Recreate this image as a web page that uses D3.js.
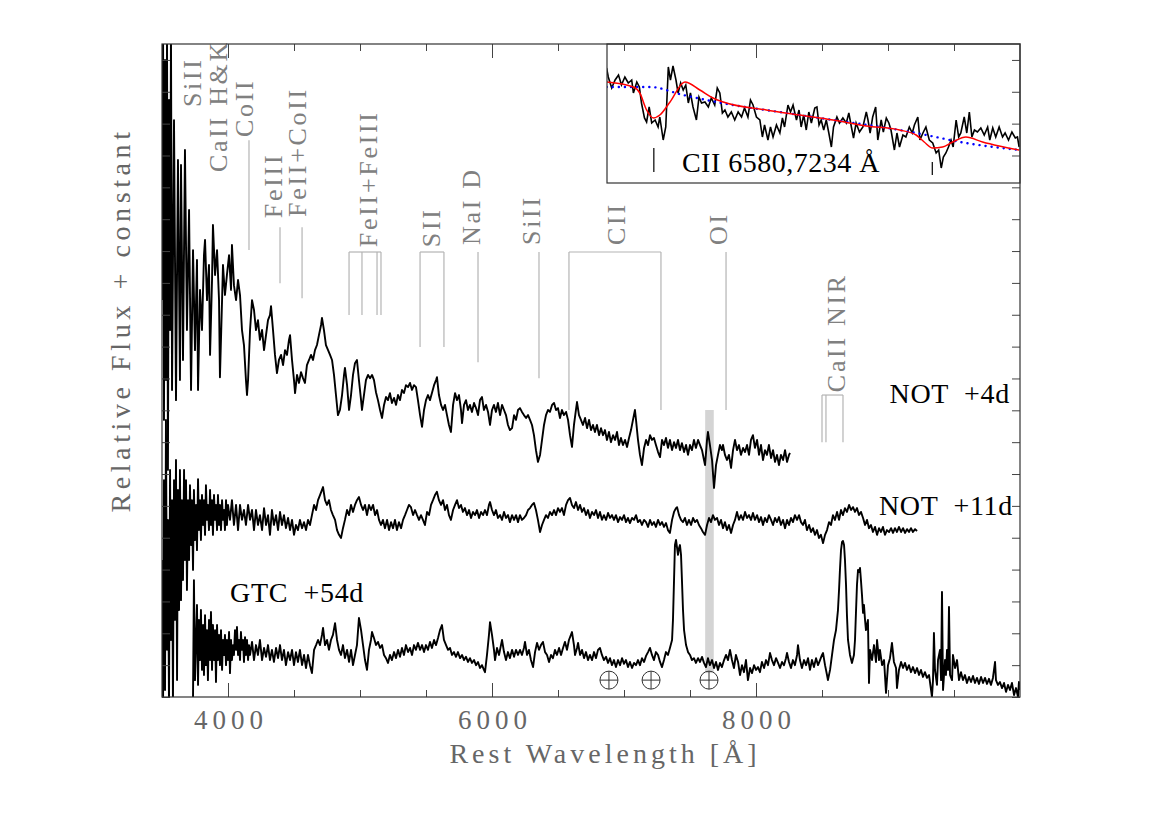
<!DOCTYPE html>
<html>
<head>
<meta charset="utf-8">
<script src="https://cdn.jsdelivr.net/npm/d3@7"></script>
<style>
body { margin: 0; background: #fff; }
text { font-family: "Liberation Serif", "DejaVu Serif", serif; }
</style>
</head>
<body>
<script>
// ---------------- data (wavelength in Angstrom, relative flux + constant) ----------------
var xMajorTicks = [4000, 6000, 8000];
var xMinorTicks = [4500, 5000, 5500, 6500, 7000, 7500, 8500, 9000, 9500];
var yTicks = [0, 1, 2, 3, 4, 5, 6, 7, 8, 9, 10, 11, 12, 13, 14, 15, 16, 17, 18, 19, 20];

var not4dSpectrum = [[3500,12.46],[3508,20.94],[3515,8.70],[3523,20.00],[3530,9.95],[3538,20.94],[3545,7.13],[3553,18.74],[3561,11.52],[3568,20.94],[3576,9.64],[3591,18.11],[3606,9.32],[3621,16.86],[3636,9.95],[3644,16.70],[3659,10.58],[3674,17.17],[3689,11.52],[3705,15.29],[3720,9.64],[3735,14.03],[3750,10.89],[3765,13.72],[3773,9.64],[3788,12.78],[3803,11.52],[3818,13.87],[3826,14.35],[3841,12.46],[3856,13.56],[3864,10.74],[3879,13.09],[3886,14.82],[3902,13.25],[3917,14.03],[3932,12.46],[3939,10.04],[3955,12.46],[3962,13.56],[3977,12.62],[3992,13.25],[4008,13.87],[4023,12.78],[4030,14.19],[4045,12.93],[4061,12.46],[4076,13.09],[4091,12.62],[4106,11.52],[4121,11.05],[4136,9.95],[4144,9.48],[4152,9.95],[4167,11.52],[4182,12.46],[4197,12.15],[4212,11.52],[4227,11.83],[4242,11.21],[4258,11.52],[4273,10.89],[4288,11.36],[4303,11.83],[4318,11.99],[4326,12.27],[4341,11.52],[4356,10.74],[4371,10.17],[4386,10.58],[4402,10.74],[4417,10.42],[4432,10.89],[4447,10.74],[4462,11.21],[4470,11.36],[4485,10.58],[4500,9.95],[4508,9.54],[4523,10.11],[4538,9.86],[4553,10.20],[4568,10.01],[4583,9.86],[4598,10.42],[4614,10.58],[4629,10.74],[4644,10.58],[4659,10.89],[4674,11.05],[4689,11.36],[4705,11.68],[4712,11.90],[4727,11.52],[4742,11.05],[4758,10.89],[4773,10.74],[4788,10.58],[4803,10.11],[4818,9.48],[4833,8.85],[4848,9.01],[4864,9.48],[4879,10.11],[4886,10.33],[4902,9.79],[4917,9.01],[4932,9.48],[4947,10.11],[4962,10.48],[4977,10.58],[4992,9.95],[5008,9.32],[5015,9.01],[5030,9.48],[5045,9.95],[5061,10.11],[5076,10.01],[5091,10.11],[5106,9.95],[5121,9.57],[5136,9.32],[5152,9.01],[5167,8.76],[5182,9.17],[5197,9.42],[5212,9.32],[5227,9.54],[5242,9.23],[5258,9.39],[5273,9.17],[5288,9.48],[5303,9.32],[5318,9.64],[5333,9.54],[5348,9.79],[5364,9.73],[5379,9.86],[5394,9.64],[5409,9.79],[5424,9.73],[5439,9.32],[5455,8.85],[5470,8.48],[5485,9.01],[5500,9.32],[5515,9.48],[5530,9.32],[5545,9.54],[5561,9.79],[5576,9.95],[5583,10.04],[5598,9.48],[5614,9.17],[5629,9.01],[5644,9.17],[5659,8.85],[5674,8.54],[5689,8.32],[5705,9.17],[5720,9.54],[5735,9.32],[5750,9.48],[5765,9.01],[5773,8.60],[5788,9.17],[5803,9.32],[5818,9.01],[5833,9.17],[5848,8.95],[5864,9.23],[5879,9.07],[5894,8.85],[5909,9.32],[5924,9.42],[5939,9.01],[5955,9.17],[5970,8.95],[5985,8.54],[6000,9.01],[6015,9.17],[6030,8.95],[6045,9.23],[6061,8.85],[6076,9.17],[6091,9.01],[6106,8.85],[6121,8.54],[6136,8.38],[6152,8.44],[6167,8.85],[6182,8.70],[6197,9.01],[6212,9.07],[6227,8.95],[6242,8.85],[6258,8.76],[6273,8.85],[6288,8.70],[6303,8.54],[6318,8.22],[6333,7.75],[6348,7.38],[6364,7.60],[6379,8.07],[6394,8.54],[6409,8.85],[6424,9.01],[6439,8.95],[6455,9.17],[6470,9.23],[6485,9.01],[6500,9.07],[6515,8.76],[6530,9.01],[6545,8.85],[6561,8.95],[6576,8.70],[6591,8.22],[6606,7.85],[6621,8.54],[6636,9.01],[6644,9.26],[6659,8.85],[6674,8.70],[6689,8.54],[6705,8.76],[6720,8.44],[6735,8.70],[6750,8.38],[6765,8.54],[6780,8.32],[6795,8.54],[6811,8.22],[6826,8.44],[6841,8.22],[6856,8.38],[6871,8.07],[6886,8.32],[6901,8.00],[6917,8.22],[6932,8.07],[6947,8.32],[6962,7.91],[6977,8.13],[6992,7.91],[7008,8.07],[7023,7.85],[7038,8.13],[7053,8.38],[7068,8.70],[7083,9.01],[7091,8.70],[7106,8.07],[7121,7.60],[7136,7.28],[7152,7.82],[7167,8.07],[7182,7.91],[7197,8.22],[7212,8.07],[7227,8.13],[7242,7.91],[7258,7.69],[7273,7.53],[7288,8.07],[7303,7.91],[7318,8.13],[7333,7.82],[7348,8.07],[7364,7.75],[7379,8.00],[7394,7.82],[7409,8.07],[7424,7.75],[7439,7.97],[7455,7.69],[7470,7.91],[7485,7.60],[7500,7.91],[7515,7.75],[7530,8.07],[7545,7.82],[7561,8.07],[7576,7.91],[7591,7.75],[7606,7.44],[7614,7.28],[7629,8.07],[7636,8.32],[7651,7.91],[7667,7.44],[7682,6.56],[7697,7.28],[7712,7.60],[7727,7.91],[7742,7.75],[7750,7.91],[7765,7.60],[7780,7.44],[7795,7.60],[7811,7.19],[7826,7.75],[7841,8.07],[7856,7.75],[7871,7.91],[7886,7.60],[7902,7.82],[7917,7.69],[7932,7.91],[7947,7.60],[7962,8.07],[7977,8.22],[7992,7.82],[8008,8.07],[8023,7.60],[8038,7.91],[8053,7.44],[8068,7.75],[8083,7.60],[8098,7.91],[8114,7.50],[8129,7.75],[8144,7.38],[8159,7.60],[8174,7.28],[8189,7.60],[8205,7.44],[8220,7.75],[8235,7.38],[8250,7.60],[8258,7.66]];

var not11dSpectrum = [[3500,4.30],[3508,-0.30],[3515,6.81],[3523,0.22],[3530,8.70],[3538,1.48],[3545,5.56],[3553,-0.30],[3561,7.13],[3568,1.79],[3576,6.18],[3583,-0.30],[3591,6.81],[3598,2.42],[3606,7.44],[3614,0.53],[3621,6.50],[3629,2.73],[3636,7.13],[3644,3.04],[3651,6.18],[3659,3.67],[3667,7.13],[3674,4.30],[3682,6.81],[3689,3.36],[3697,6.18],[3705,4.30],[3712,6.65],[3720,4.77],[3727,6.18],[3735,3.99],[3742,6.50],[3750,4.93],[3758,6.03],[3765,4.61],[3773,6.84],[3780,5.24],[3788,6.18],[3795,4.93],[3803,6.34],[3811,5.40],[3818,6.18],[3826,5.09],[3833,6.65],[3841,5.56],[3848,6.03],[3856,5.24],[3864,6.50],[3871,5.40],[3879,6.18],[3886,5.09],[3894,6.34],[3902,5.56],[3909,6.03],[3917,5.24],[3924,6.34],[3932,5.40],[3939,6.03],[3947,5.24],[3955,6.18],[3962,5.56],[3970,5.87],[3977,5.24],[3985,6.18],[3992,5.40],[4000,6.03],[4015,5.56],[4030,6.18],[4045,5.40],[4061,6.03],[4076,5.24],[4091,6.03],[4106,5.56],[4121,5.87],[4136,5.40],[4152,6.03],[4167,5.56],[4182,5.87],[4197,5.24],[4212,5.87],[4227,5.40],[4242,5.71],[4258,5.24],[4273,5.93],[4288,5.40],[4303,5.71],[4318,5.09],[4333,5.87],[4348,5.40],[4364,5.71],[4379,5.24],[4394,5.81],[4409,5.40],[4424,5.71],[4439,5.30],[4455,5.62],[4470,5.24],[4485,5.56],[4500,5.09],[4515,5.40],[4530,5.24],[4545,5.56],[4561,5.30],[4576,5.49],[4591,5.24],[4606,5.56],[4621,5.40],[4636,5.71],[4652,6.03],[4667,5.87],[4682,6.18],[4697,6.34],[4712,6.50],[4720,6.59],[4735,6.18],[4750,6.03],[4765,6.18],[4780,5.87],[4795,5.71],[4811,5.56],[4826,5.24],[4841,5.09],[4856,4.99],[4871,5.30],[4886,5.56],[4902,5.87],[4917,5.71],[4932,6.03],[4947,5.81],[4962,6.03],[4977,6.18],[4992,6.28],[5008,6.03],[5023,5.87],[5038,6.03],[5053,5.71],[5068,6.03],[5083,5.87],[5099,6.03],[5114,5.71],[5129,5.87],[5144,5.56],[5159,5.40],[5174,5.56],[5189,5.30],[5205,5.56],[5220,5.24],[5235,5.49],[5250,5.30],[5265,5.56],[5280,5.24],[5295,5.49],[5311,5.30],[5326,5.56],[5341,5.71],[5356,5.87],[5371,6.03],[5386,5.96],[5402,5.71],[5417,5.87],[5432,5.71],[5447,5.56],[5462,5.71],[5477,5.56],[5492,5.40],[5508,5.81],[5523,5.71],[5538,6.03],[5553,6.18],[5568,6.34],[5583,6.44],[5598,6.18],[5614,6.03],[5629,6.18],[5644,5.87],[5659,6.03],[5674,5.71],[5689,5.56],[5705,5.87],[5720,6.03],[5735,6.18],[5750,5.93],[5765,6.03],[5780,5.81],[5795,5.93],[5811,5.71],[5826,5.87],[5841,5.62],[5856,5.81],[5871,5.71],[5886,5.87],[5902,5.62],[5917,5.81],[5932,5.71],[5947,5.87],[5962,5.71],[5977,6.03],[5985,6.12],[6000,5.87],[6015,5.71],[6030,5.87],[6045,5.62],[6061,5.71],[6076,5.56],[6091,5.81],[6106,5.62],[6121,5.71],[6136,5.49],[6152,5.71],[6167,5.56],[6182,5.71],[6197,5.49],[6212,5.71],[6227,5.56],[6242,5.62],[6258,5.71],[6273,5.87],[6288,5.93],[6303,6.03],[6318,6.09],[6333,5.87],[6348,5.56],[6364,5.18],[6379,5.40],[6394,5.56],[6409,5.71],[6424,5.62],[6439,5.81],[6455,5.71],[6470,5.87],[6485,5.71],[6500,5.93],[6515,5.81],[6530,5.93],[6545,5.71],[6561,6.03],[6576,6.18],[6591,6.25],[6606,6.03],[6621,5.93],[6636,6.12],[6652,5.87],[6667,6.03],[6682,5.81],[6697,5.93],[6712,5.71],[6727,5.87],[6742,5.62],[6758,5.81],[6773,5.71],[6788,5.87],[6803,5.62],[6818,5.81],[6833,5.56],[6848,5.71],[6864,5.56],[6879,5.78],[6894,5.62],[6909,5.71],[6924,5.56],[6939,5.71],[6955,5.49],[6970,5.65],[6985,5.56],[7000,5.71],[7015,5.49],[7030,5.62],[7045,5.46],[7061,5.62],[7076,5.56],[7091,5.71],[7106,5.49],[7121,5.56],[7136,5.40],[7152,5.56],[7167,5.49],[7182,5.34],[7197,5.56],[7212,5.40],[7227,5.49],[7242,5.34],[7258,5.56],[7273,5.40],[7288,5.49],[7303,5.34],[7318,5.46],[7333,5.24],[7348,5.15],[7364,5.56],[7379,5.81],[7394,5.93],[7402,5.96],[7417,5.71],[7432,5.56],[7447,5.49],[7462,5.62],[7477,5.40],[7492,5.56],[7508,5.40],[7523,5.62],[7538,5.49],[7553,5.56],[7568,5.40],[7583,5.30],[7598,5.18],[7614,5.09],[7629,5.40],[7644,5.62],[7659,5.49],[7674,5.71],[7689,5.56],[7705,5.62],[7720,5.40],[7735,5.56],[7750,5.30],[7765,5.49],[7780,5.24],[7795,5.40],[7811,5.15],[7826,5.40],[7841,5.56],[7856,5.81],[7871,5.56],[7886,5.71],[7902,5.56],[7917,5.81],[7932,5.62],[7947,5.71],[7962,5.56],[7977,5.78],[7992,5.56],[8008,5.71],[8023,5.49],[8038,5.65],[8053,5.40],[8068,5.62],[8083,5.49],[8098,5.71],[8114,5.56],[8129,5.40],[8144,5.62],[8159,5.49],[8174,5.65],[8189,5.40],[8205,5.56],[8220,5.30],[8235,5.56],[8250,5.40],[8265,5.62],[8280,5.49],[8295,5.71],[8311,5.56],[8326,5.71],[8341,5.49],[8356,5.40],[8371,5.56],[8386,5.24],[8402,5.40],[8417,5.18],[8432,5.30],[8447,5.09],[8462,5.24],[8477,4.99],[8492,5.09],[8508,4.83],[8523,5.09],[8538,5.24],[8553,5.49],[8568,5.40],[8583,5.71],[8598,5.56],[8614,5.81],[8629,5.56],[8644,5.87],[8659,5.71],[8674,5.93],[8689,5.81],[8705,6.03],[8720,5.87],[8735,5.96],[8750,5.81],[8765,5.93],[8780,5.71],[8795,5.81],[8811,5.62],[8826,5.40],[8841,5.56],[8856,5.30],[8871,5.40],[8886,5.18],[8902,5.34],[8917,5.09],[8932,5.30],[8947,5.18],[8962,5.34],[8977,5.09],[8992,5.24],[9008,5.18],[9023,5.30],[9038,5.15],[9053,5.30],[9068,5.18],[9083,5.34],[9099,5.18],[9114,5.30],[9129,5.15],[9144,5.27],[9159,5.18],[9174,5.30],[9189,5.18],[9205,5.27],[9220,5.21]];

var gtc54dSpectrum = [[3735,0.00],[3742,3.67],[3750,0.53],[3758,1.79],[3765,2.89],[3773,0.38],[3780,2.42],[3788,1.16],[3795,2.73],[3803,0.85],[3811,2.26],[3818,0.69],[3826,2.57],[3833,1.00],[3841,2.10],[3848,0.53],[3856,2.42],[3864,1.16],[3871,2.67],[3879,0.85],[3886,2.26],[3894,1.16],[3902,2.10],[3909,0.47],[3917,2.26],[3924,1.16],[3932,1.95],[3939,1.00],[3947,2.10],[3955,0.85],[3962,1.79],[3970,1.32],[3977,1.95],[3985,1.00],[3992,1.79],[4000,1.16],[4008,2.04],[4015,0.75],[4023,1.79],[4030,1.16],[4038,1.63],[4045,1.32],[4053,2.10],[4061,1.48],[4068,2.20],[4076,1.32],[4083,1.79],[4091,1.16],[4098,2.04],[4106,1.48],[4114,1.79],[4121,1.10],[4129,1.88],[4136,1.32],[4144,1.79],[4152,1.16],[4159,1.63],[4167,1.32],[4182,1.73],[4197,1.16],[4212,1.63],[4227,1.32],[4242,1.79],[4258,1.16],[4273,1.54],[4288,1.26],[4303,1.63],[4318,1.16],[4333,1.48],[4348,1.10],[4364,1.54],[4379,1.22],[4394,1.63],[4409,1.16],[4424,1.48],[4439,1.00],[4455,1.41],[4470,1.16],[4485,1.48],[4500,1.00],[4515,1.41],[4530,1.10],[4545,1.48],[4561,1.00],[4576,1.32],[4591,0.91],[4606,1.32],[4621,1.00],[4636,0.75],[4652,1.48],[4667,1.63],[4682,1.79],[4697,1.63],[4712,1.95],[4720,2.17],[4735,1.63],[4750,1.79],[4765,1.48],[4780,1.79],[4795,1.95],[4811,2.32],[4826,1.79],[4841,1.48],[4856,1.32],[4871,1.63],[4886,1.22],[4902,1.48],[4917,1.10],[4932,1.48],[4947,1.00],[4962,1.32],[4977,1.63],[4992,2.48],[5008,2.10],[5023,1.63],[5038,1.16],[5053,0.85],[5068,1.48],[5083,1.79],[5091,2.04],[5106,1.85],[5121,1.63],[5136,1.73],[5152,1.54],[5167,1.63],[5182,1.32],[5197,1.22],[5212,1.07],[5227,1.32],[5242,1.16],[5258,1.41],[5273,1.22],[5288,1.48],[5303,1.26],[5318,1.54],[5333,1.32],[5348,1.63],[5364,1.41],[5379,1.54],[5394,1.32],[5409,1.63],[5424,1.48],[5439,1.70],[5455,1.48],[5470,1.63],[5485,1.41],[5500,1.63],[5515,1.48],[5530,1.73],[5545,1.54],[5561,1.79],[5576,1.63],[5591,1.85],[5606,2.10],[5621,2.26],[5636,1.79],[5652,1.63],[5667,1.48],[5682,1.54],[5697,1.32],[5712,1.41],[5727,1.26],[5742,1.41],[5758,1.22],[5773,1.32],[5788,1.16],[5803,1.26],[5818,1.10],[5833,1.22],[5848,1.07],[5864,1.16],[5879,1.00],[5894,1.10],[5909,0.91],[5924,1.00],[5939,0.85],[5947,0.78],[5962,1.32],[5977,1.95],[5985,2.35],[6000,1.95],[6015,1.48],[6023,1.16],[6038,1.54],[6053,1.32],[6068,1.63],[6076,1.79],[6091,1.41],[6106,1.16],[6121,1.41],[6136,1.22],[6152,1.48],[6167,1.26],[6182,1.48],[6197,1.32],[6212,1.48],[6227,1.32],[6242,1.54],[6250,1.73],[6265,1.32],[6280,1.48],[6295,1.16],[6311,0.94],[6326,1.41],[6341,1.70],[6356,1.48],[6371,1.63],[6386,1.73],[6402,1.41],[6417,1.32],[6432,1.10],[6447,1.32],[6462,1.22],[6477,1.48],[6492,1.32],[6508,1.54],[6523,1.32],[6538,1.54],[6553,1.73],[6568,1.48],[6583,1.79],[6598,1.95],[6606,2.04],[6621,1.63],[6629,1.32],[6644,1.54],[6652,1.70],[6667,1.32],[6682,1.48],[6697,1.22],[6712,1.41],[6727,1.16],[6742,1.32],[6758,1.16],[6773,1.41],[6788,1.22],[6803,1.48],[6818,1.54],[6833,1.32],[6848,1.16],[6864,1.26],[6879,1.07],[6894,1.22],[6909,1.00],[6924,1.16],[6939,0.94],[6955,1.16],[6970,1.00],[6985,1.22],[7000,1.04],[7015,1.16],[7030,0.94],[7045,1.10],[7061,0.91],[7076,1.07],[7091,1.00],[7106,1.16],[7121,1.00],[7136,1.22],[7152,1.10],[7167,1.29],[7182,1.41],[7197,1.54],[7212,1.32],[7227,1.16],[7242,1.41],[7258,1.32],[7273,1.10],[7288,0.94],[7303,1.16],[7318,1.41],[7333,1.32],[7348,1.54],[7364,1.79],[7371,2.42],[7379,3.67],[7386,4.77],[7394,4.93],[7402,4.68],[7409,4.46],[7417,4.68],[7424,4.77],[7432,4.46],[7439,3.67],[7447,2.73],[7455,2.10],[7470,1.63],[7485,1.41],[7500,1.32],[7515,1.16],[7530,1.22],[7545,1.07],[7561,1.22],[7576,1.10],[7591,1.26],[7606,1.07],[7621,0.94],[7636,1.22],[7651,1.00],[7667,1.16],[7682,0.91],[7697,1.10],[7712,0.85],[7727,1.07],[7742,0.94],[7758,1.16],[7773,1.32],[7788,1.16],[7803,1.48],[7818,1.16],[7833,0.91],[7848,1.32],[7864,1.10],[7879,0.69],[7894,1.00],[7909,0.78],[7924,1.16],[7939,0.53],[7955,0.91],[7970,0.75],[7985,1.00],[8000,0.85],[8015,0.94],[8030,0.78],[8045,1.10],[8061,0.91],[8076,1.16],[8091,1.00],[8106,1.38],[8121,1.16],[8136,1.00],[8152,1.22],[8167,1.07],[8182,0.91],[8197,1.10],[8212,1.00],[8227,1.22],[8235,1.38],[8250,1.10],[8265,0.91],[8280,1.16],[8295,1.00],[8311,1.32],[8318,1.63],[8333,1.16],[8348,0.91],[8364,1.16],[8379,1.00],[8394,1.22],[8409,0.85],[8424,1.16],[8439,0.94],[8455,1.22],[8470,1.00],[8485,1.16],[8500,1.32],[8508,1.38],[8523,1.00],[8538,0.69],[8545,0.53],[8561,0.85],[8576,1.32],[8591,1.79],[8606,2.10],[8621,2.73],[8629,3.36],[8636,3.99],[8644,4.61],[8652,4.87],[8659,4.90],[8667,4.77],[8674,4.30],[8682,3.52],[8689,2.57],[8697,1.79],[8712,1.32],[8727,1.07],[8742,1.32],[8750,1.79],[8758,2.73],[8765,3.52],[8773,3.99],[8780,3.92],[8788,4.05],[8795,3.67],[8803,3.20],[8811,2.64],[8818,2.89],[8826,2.42],[8833,2.10],[8841,2.26],[8848,2.42],[8856,0.44],[8864,1.48],[8879,1.16],[8894,1.63],[8909,1.10],[8917,1.79],[8932,1.16],[8939,1.48],[8955,1.00],[8970,1.16],[8985,0.13],[9000,1.00],[9015,1.22],[9030,1.70],[9045,1.10],[9061,0.91],[9068,0.28],[9083,0.85],[9099,1.10],[9114,0.91],[9129,1.07],[9144,0.85],[9159,1.00],[9174,0.78],[9189,0.94],[9205,0.75],[9220,0.91],[9235,0.69],[9250,0.85],[9265,0.63],[9280,0.78],[9295,0.60],[9311,0.69],[9326,0.22],[9333,0.00],[9341,0.53],[9348,2.01],[9356,0.85],[9371,0.38],[9379,1.16],[9394,1.48],[9402,0.53],[9409,3.30],[9417,0.22],[9432,1.16],[9439,0.69],[9447,1.48],[9455,0.85],[9462,2.83],[9470,0.69],[9485,0.53],[9492,1.32],[9508,0.91],[9523,1.16],[9538,0.53],[9553,0.78],[9568,0.53],[9583,0.69],[9598,0.44],[9614,0.63],[9629,0.47],[9644,0.66],[9659,0.44],[9674,0.60],[9689,0.41],[9705,0.63],[9720,0.44],[9735,0.60],[9750,0.41],[9765,0.57],[9780,0.38],[9795,0.60],[9811,1.10],[9818,0.53],[9833,0.38],[9848,0.47],[9864,0.28],[9879,0.44],[9894,0.16],[9909,0.38],[9924,0.22],[9939,0.44],[9955,0.06],[9970,0.28],[9985,0.00],[9992,0.47],[10000,0.22]];

// epoch labels (anchor wavelength, flux)
var epochLabels = [
    {text: "NOT  +4d", wave: 9924, flux: 9.23, anchor: "end"},
    {text: "NOT  +11d", wave: 9947, flux: 5.71, anchor: "end"},
    {text: "GTC  +54d", wave: 4015, flux: 2.98, anchor: "start"}
];

// line identifications: marker wavelengths, marker top/bottom flux, label anchor
var lineIds = [
    {name: "SiII", waves: [], top: 0, bottom: 0, labelWave: 3795, labelFlux: 18.52},
    {name: "CaII H&K", waves: [], top: 0, bottom: 0, labelWave: 3992, labelFlux: 16.48},
    {name: "CoII", waves: [4159], top: 17.48, bottom: 14.03, labelWave: 4189, labelFlux: 17.58},
    {name: "FeIII", waves: [4394], top: 14.75, bottom: 12.99, labelWave: 4409, labelFlux: 15.03},
    {name: "FeII+CoII", waves: [4561], top: 14.75, bottom: 12.52, labelWave: 4591, labelFlux: 15.07},
    {name: "FeII+FeIII", waves: [4917, 5015, 5129, 5159], top: 13.97, bottom: 11.99, labelWave: 5129, labelFlux: 14.12},
    {name: "SII", waves: [5455, 5636], top: 13.97, bottom: 10.99, labelWave: 5606, labelFlux: 14.12},
    {name: "NaI D", waves: [5894], top: 13.97, bottom: 10.51, labelWave: 5909, labelFlux: 14.19},
    {name: "SiII", waves: [6356], top: 13.97, bottom: 10.01, labelWave: 6364, labelFlux: 14.19},
    {name: "CII", waves: [6583, 7280], top: 13.97, bottom: 9.01, labelWave: 7008, labelFlux: 14.19},
    {name: "OI", waves: [7773], top: 13.97, bottom: 9.01, labelWave: 7780, labelFlux: 14.19},
    {name: "CaII NIR", waves: [8500, 8530, 8659], top: 9.48, bottom: 8.00, labelWave: 8674, labelFlux: 9.57}
];

// telluric features
var telluricWaves = [6886, 7205, 7644];
var telluricFlux = 0.53;
var telluricBand = [7615, 7680];
var telluricBandFlux = [0.75, 9.01];

// inset: CII region of the +4d spectrum, normalised flux
var insetSpectrum = [[6469,1.15],[6473,1.06],[6481,0.95],[6489,1.03],[6497,1.08],[6504,0.98],[6512,1.06],[6520,1.00],[6528,1.03],[6532,0.90],[6540,1.01],[6546,0.96],[6551,0.80],[6558,0.65],[6563,0.61],[6569,0.76],[6575,0.60],[6583,0.63],[6590,0.56],[6594,0.66],[6602,0.43],[6608,0.56],[6614,1.16],[6619,1.03],[6625,1.17],[6632,1.03],[6637,0.90],[6643,1.00],[6649,0.93],[6655,0.98],[6661,0.80],[6666,0.90],[6672,0.76],[6680,0.63],[6686,0.86],[6692,0.80],[6700,0.81],[6708,0.76],[6715,0.85],[6723,0.78],[6729,0.95],[6735,0.90],[6741,0.70],[6747,0.73],[6754,0.66],[6762,0.71],[6770,0.63],[6778,0.71],[6786,0.66],[6793,0.75],[6801,0.66],[6807,0.83],[6813,0.78],[6821,0.66],[6829,0.63],[6835,0.46],[6840,0.58],[6848,0.43],[6854,0.56],[6860,0.46],[6868,0.58],[6876,0.50],[6882,0.65],[6887,0.56],[6895,0.78],[6901,0.71],[6907,0.78],[6915,0.63],[6921,0.73],[6926,0.56],[6932,0.68],[6938,0.53],[6944,0.71],[6950,0.60],[6958,0.75],[6963,0.76],[6968,0.58],[6973,0.63],[6979,0.53],[6985,0.63],[6991,0.50],[6997,0.36],[7002,0.56],[7010,0.66],[7016,0.60],[7024,0.65],[7032,0.60],[7038,0.70],[7044,0.56],[7049,0.45],[7055,0.60],[7063,0.51],[7071,0.56],[7079,0.71],[7083,0.63],[7088,0.50],[7094,0.66],[7101,0.76],[7106,0.43],[7114,0.63],[7119,0.51],[7126,0.65],[7132,0.60],[7137,0.53],[7145,0.33],[7151,0.50],[7157,0.36],[7165,0.48],[7172,0.46],[7180,0.56],[7187,0.50],[7192,0.58],[7200,0.66],[7205,0.43],[7212,0.50],[7219,0.56],[7227,0.43],[7235,0.40],[7243,0.30],[7249,0.33],[7255,0.15],[7260,0.26],[7266,0.30],[7272,0.36],[7278,0.43],[7283,0.36],[7290,0.63],[7296,0.46],[7301,0.50],[7309,0.66],[7315,0.50],[7321,0.71],[7327,0.46],[7333,0.53],[7340,0.51],[7348,0.55],[7356,0.48],[7364,0.56],[7369,0.43],[7376,0.55],[7383,0.46],[7391,0.56],[7399,0.46],[7405,0.50],[7413,0.43],[7421,0.51],[7429,0.45],[7434,0.46],[7438,0.36]];
var insetModel = [[6469,1.01],[6532,0.96],[6547,0.90],[6563,0.73],[6579,0.65],[6594,0.68],[6618,0.81],[6653,1.01],[6688,0.93],[6719,0.85],[6743,0.81],[6844,0.73],[6922,0.68],[7001,0.63],[7079,0.57],[7157,0.53],[7196,0.48],[7215,0.41],[7235,0.35],[7258,0.36],[7282,0.41],[7313,0.46],[7352,0.41],[7391,0.37],[7438,0.33]];
var insetContinuum = [[6469,0.96],[6571,0.96],[6649,0.88],[6727,0.81],[6922,0.68],[7196,0.50],[7313,0.40],[7438,0.33]];
var insetMarks = [6580, 7234];
var insetMarkFlux = [[0.11, 0.35], [0.08, 0.21]];
var insetLabel = {text: "CII 6580,7234 Å", wave: 6646, flux: 0.11};

(function(){

var svgWidth = 1175, svgHeight = 830;
var plotLeft = 162, plotRight = 1020, plotTop = 44, plotBottom = 697;
var insetLeft = 607, insetBottom = 183;

var svg = d3.select("body")
    .append("svg")
    .attr("width", svgWidth)
    .attr("height", svgHeight);

var x = d3.scaleLinear().domain([3500, 10000]).range([plotLeft, plotRight]);
var y = d3.scaleLinear().domain([0, 20.5]).range([plotBottom, plotTop]);

var defs = svg.append("defs");
defs.append("clipPath").attr("id", "plotClip")
    .append("rect")
    .attr("x", plotLeft).attr("y", plotTop)
    .attr("width", plotRight - plotLeft).attr("height", plotBottom - plotTop);
defs.append("clipPath").attr("id", "insetClip")
    .append("rect")
    .attr("x", insetLeft).attr("y", plotTop)
    .attr("width", plotRight - insetLeft).attr("height", insetBottom - plotTop);

var line = d3.line()
    .x(function(d){ return x(d[0]); })
    .y(function(d){ return y(d[1]); });

//telluric A-band shading
svg.append("rect")
    .attr("x", x(telluricBand[0]))
    .attr("y", y(telluricBandFlux[1]))
    .attr("width", x(telluricBand[1]) - x(telluricBand[0]))
    .attr("height", y(telluricBandFlux[0]) - y(telluricBandFlux[1]))
    .style("fill", "#d4d4d4");

//spectra
var spectra = svg.append("g").attr("clip-path", "url(#plotClip)");
[not4dSpectrum, not11dSpectrum, gtc54dSpectrum].forEach(function(s){
    spectra.append("path")
        .datum(s)
        .attr("d", line)
        .style("fill", "none")
        .style("stroke", "#000")
        .style("stroke-width", 1.9)
        .style("stroke-linejoin", "round");
});

//line identification markers
var ids = svg.append("g").attr("class", "lineIds");
lineIds.forEach(function(l){
    l.waves.forEach(function(w){
        ids.append("line")
            .attr("x1", x(w)).attr("x2", x(w))
            .attr("y1", y(l.top)).attr("y2", y(l.bottom))
            .style("stroke", "#b4b4b4").style("stroke-width", 1.2);
    });
    if (l.waves.length > 1){
        ids.append("line")
            .attr("x1", x(d3.min(l.waves))).attr("x2", x(d3.max(l.waves)))
            .attr("y1", y(l.top)).attr("y2", y(l.top))
            .style("stroke", "#b4b4b4").style("stroke-width", 1.2);
    }
    ids.append("text")
        .attr("transform", "translate(" + x(l.labelWave) + "," + y(l.labelFlux) + ") rotate(-90)")
        .style("font-size", "26px")
        .style("letter-spacing", "2.7px")
        .style("fill", "#808080")
        .text(l.name);
});

//earth symbols for telluric absorption
var earth = svg.append("g").selectAll("g")
    .data(telluricWaves)
    .enter()
    .append("g")
    .attr("transform", function(d){ return "translate(" + x(d) + "," + y(telluricFlux) + ")"; });
earth.append("circle").attr("r", 9)
    .style("fill", "none").style("stroke", "#333").style("stroke-width", 1);
earth.append("line").attr("x1", -9).attr("x2", 9)
    .style("stroke", "#333").style("stroke-width", 1);
earth.append("line").attr("y1", -9).attr("y2", 9)
    .style("stroke", "#333").style("stroke-width", 1);

//epoch labels
svg.selectAll(".epoch")
    .data(epochLabels)
    .enter()
    .append("text")
    .attr("class", "epoch")
    .attr("x", function(d){ return x(d.wave); })
    .attr("y", function(d){ return y(d.flux); })
    .attr("text-anchor", function(d){ return d.anchor; })
    .style("font-size", "28px")
    .style("letter-spacing", "0.7px")
    .style("white-space", "pre")
    .style("fill", "#000")
    .text(function(d){ return d.text; });

//inset panel
var ix = d3.scaleLinear().domain([6470, 7440]).range([insetLeft, plotRight]);
var iy = d3.scaleLinear().domain([0, 1.39]).range([insetBottom, plotTop]);
var iline = d3.line()
    .x(function(d){ return ix(d[0]); })
    .y(function(d){ return iy(d[1]); });

var inset = svg.append("g").attr("class", "inset");
inset.append("rect")
    .attr("x", insetLeft).attr("y", plotTop)
    .attr("width", plotRight - insetLeft).attr("height", insetBottom - plotTop)
    .style("fill", "#fff");
var insetPlot = inset.append("g").attr("clip-path", "url(#insetClip)");
insetPlot.append("path")
    .datum(insetSpectrum)
    .attr("d", iline)
    .style("fill", "none").style("stroke", "#000").style("stroke-width", 1.6);
insetPlot.append("path")
    .datum(insetContinuum)
    .attr("d", iline.curve(d3.curveMonotoneX))
    .style("fill", "none").style("stroke", "#0000ff").style("stroke-width", 2.4)
    .style("stroke-dasharray", "0.1,6").style("stroke-linecap", "round");
insetPlot.append("path")
    .datum(insetModel)
    .attr("d", iline.curve(d3.curveMonotoneX))
    .style("fill", "none").style("stroke", "#ff0000").style("stroke-width", 1.5);
insetMarks.forEach(function(w, i){
    inset.append("line")
        .attr("x1", ix(w)).attr("x2", ix(w))
        .attr("y1", iy(insetMarkFlux[i][0])).attr("y2", iy(insetMarkFlux[i][1]))
        .style("stroke", "#000").style("stroke-width", 1.2);
});
inset.append("text")
    .attr("x", ix(insetLabel.wave))
    .attr("y", iy(insetLabel.flux))
    .style("font-size", "28px")
    .style("letter-spacing", "0.5px")
    .style("fill", "#000")
    .text(insetLabel.text);
inset.append("rect")
    .attr("x", insetLeft).attr("y", plotTop)
    .attr("width", plotRight - insetLeft).attr("height", insetBottom - plotTop)
    .style("fill", "none").style("stroke", "#333").style("stroke-width", 1.2);

//axes: minor and major ticks pointing inward on all four sides
function drawTicks(axis, transform){
    var g = svg.append("g").attr("transform", transform).call(axis);
    g.select(".domain").remove();
    g.selectAll(".tick line").style("stroke", "#444").style("stroke-width", 1);
    return g;
}
drawTicks(d3.axisBottom(x).tickValues(xMinorTicks).tickSize(-7).tickFormat(""), "translate(0," + plotBottom + ")");
drawTicks(d3.axisTop(x).tickValues(xMinorTicks).tickSize(-7).tickFormat(""), "translate(0," + plotTop + ")");
drawTicks(d3.axisTop(x).tickValues(xMajorTicks).tickSize(-14).tickFormat(""), "translate(0," + plotTop + ")");
var bottomMajor = drawTicks(d3.axisBottom(x).tickValues(xMajorTicks).tickSize(-14).tickPadding(13).tickFormat(d3.format("d")),
    "translate(0," + plotBottom + ")");
bottomMajor.selectAll(".tick text")
    .attr("dx", "2.5px")
    .style("font-family", "'Liberation Serif', serif")
    .style("font-size", "27px")
    .style("letter-spacing", "5px")
    .style("fill", "#666");
drawTicks(d3.axisLeft(y).tickValues(yTicks).tickSize(-8).tickFormat(""), "translate(" + plotLeft + ",0)");
drawTicks(d3.axisRight(y).tickValues(yTicks).tickSize(-8).tickFormat(""), "translate(" + plotRight + ",0)");

//plot frame
svg.append("rect")
    .attr("x", plotLeft).attr("y", plotTop)
    .attr("width", plotRight - plotLeft).attr("height", plotBottom - plotTop)
    .style("fill", "none").style("stroke", "#333").style("stroke-width", 1.2);

//axis titles
svg.append("text")
    .attr("x", 605)
    .attr("y", 763)
    .attr("text-anchor", "middle")
    .style("font-size", "28px")
    .style("letter-spacing", "4px")
    .style("fill", "#666")
    .text("Rest Wavelength [Å]");
svg.append("text")
    .attr("transform", "translate(130,320) rotate(-90)")
    .attr("text-anchor", "middle")
    .style("font-size", "28px")
    .style("letter-spacing", "4.6px")
    .style("fill", "#666")
    .text("Relative Flux + constant");

})();
</script>
</body>
</html>
